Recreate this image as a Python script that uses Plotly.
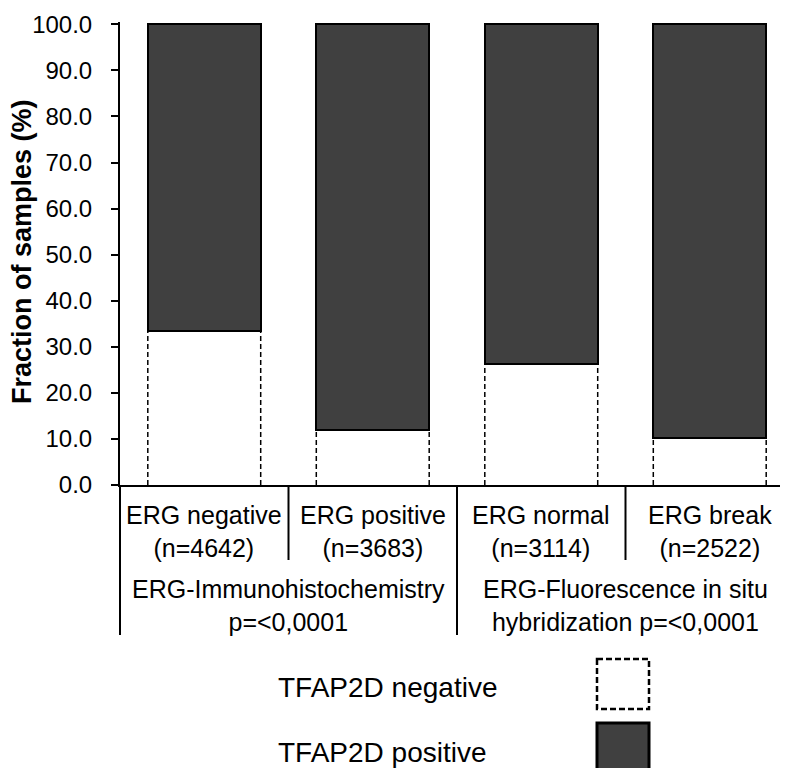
# coding: utf-8
import plotly.graph_objects as go

categories = ['ERG negative', 'ERG positive', 'ERG normal', 'ERG break']
n_samples = [4642, 3683, 3114, 2522]
tfap2d_negative = [33.4, 12.0, 26.2, 10.3]
tfap2d_positive = [66.6, 88.0, 73.8, 89.7]
groups = ['ERG-Immunohistochemistry<br>p=<0,0001',
          'ERG-Fluorescence in situ<br>hybridization p=<0,0001']
group_centers = [0.5, 2.5]
y_ticks = [0, 10, 20, 30, 40, 50, 60, 70, 80, 90, 100]

FONT = 'Arial, Liberation Sans, sans-serif'
DARK = '#404040'
BAR_W = 0.67

# page geometry (pixels) -> paper coords
W, H = 788, 768
L, R, T, B = 112, 2, 14, 291
PW, PH = W - L - R, H - T - B
Y0 = H - B  # pixel row of the x axis


def px(p):
    return (p - L) / PW


def py(p):
    return (Y0 - p) / PH


def cat_paper(b):
    # category boundary (axis units) -> paper x, axis range is [-0.5, 3.5]
    return (b + 0.5) / 4


fig = go.Figure()

xs = list(range(len(categories)))

fig.add_trace(go.Bar(x=xs, y=tfap2d_negative, width=BAR_W,
                     name='TFAP2D negative',
                     marker=dict(color='white', line=dict(width=0))))
fig.add_trace(go.Bar(x=xs, y=tfap2d_positive, width=BAR_W,
                     name='TFAP2D positive',
                     marker=dict(color=DARK, line=dict(color='black', width=2))))

# dashed sides of the white (negative) bars
dx, dy = [], []
for i, v in zip(xs, tfap2d_negative):
    for side in (-BAR_W / 2, BAR_W / 2):
        dx += [i + side, i + side, None]
        dy += [0, v, None]
fig.add_trace(go.Scatter(x=dx, y=dy, mode='lines', showlegend=False,
                         hoverinfo='skip',
                         line=dict(color='black', width=1.5, dash='5px,3px')))

shapes = []
# table lines below the x axis
for b in (-0.5, 1.5, 3.5):
    shapes.append(dict(type='line', xref='paper', yref='paper',
                       x0=cat_paper(b), x1=cat_paper(b), y0=0, y1=py(627),
                       line=dict(color='black', width=2)))
for b in (0.5, 2.5):
    shapes.append(dict(type='line', xref='paper', yref='paper',
                       x0=cat_paper(b), x1=cat_paper(b), y0=0, y1=py(552),
                       line=dict(color='black', width=2)))

# legend keys
shapes.append(dict(type='rect', xref='paper', yref='paper',
                   x0=px(589), x1=px(641), y0=py(651), y1=py(701),
                   fillcolor='white',
                   line=dict(color='black', width=2.5, dash='6px,3px')))
shapes.append(dict(type='rect', xref='paper', yref='paper',
                   x0=px(589), x1=px(641), y0=py(715), y1=py(769),
                   fillcolor=DARK, line=dict(color='black', width=3)))

annotations = []
for i, (c, n) in enumerate(zip(categories, n_samples)):
    annotations.append(dict(x=i, xref='x', y=py(523), yref='paper',
                            text='{}<br>(n={})'.format(c, n), showarrow=False,
                            xanchor='center', yanchor='middle',
                            font=dict(family=FONT, size=25, color='black')))
for g, gx in zip(groups, group_centers):
    annotations.append(dict(x=gx, xref='x', y=py(598), yref='paper',
                            text=g, showarrow=False,
                            xanchor='center', yanchor='middle',
                            font=dict(family=FONT, size=25, color='black')))

annotations.append(dict(x=px(268), xref='paper', y=py(679), yref='paper',
                        text='TFAP2D negative', showarrow=False,
                        xanchor='left', yanchor='middle',
                        font=dict(family=FONT, size=28, color='black')))
annotations.append(dict(x=px(268), xref='paper', y=py(744), yref='paper',
                        text='TFAP2D positive', showarrow=False,
                        xanchor='left', yanchor='middle',
                        font=dict(family=FONT, size=28, color='black')))

# y axis title
annotations.append(dict(x=px(14), xref='paper', y=py(244), yref='paper',
                        text='<b>Fraction of samples (%)</b>', showarrow=False,
                        textangle=-90, xanchor='center', yanchor='middle',
                        font=dict(family=FONT, size=27, color='black')))

fig.update_layout(
    width=W, height=H,
    margin=dict(l=L, r=R, t=T, b=B, autoexpand=False),
    barmode='stack',
    bargap=0,
    showlegend=False,
    plot_bgcolor='white',
    paper_bgcolor='white',
    xaxis=dict(
        range=[-0.5, 3.5],
        showgrid=False,
        zeroline=False,
        showline=True,
        linecolor='black',
        linewidth=2,
        showticklabels=False,
        ticks='',
        fixedrange=True,
    ),
    yaxis=dict(
        range=[0, 100.5],
        tickvals=y_ticks,
        tickformat='.1f',
        showgrid=False,
        zeroline=False,
        showline=True,
        linecolor='black',
        linewidth=2,
        ticks='outside',
        ticklen=7,
        tickwidth=2,
        tickcolor='black',
        ticklabelstandoff=14,
        ticklabeloverflow='allow',
        tickfont=dict(family=FONT, size=24, color='black'),
        fixedrange=True,
    ),
    shapes=shapes,
    annotations=annotations,
)

fig.write_html("out.html")
